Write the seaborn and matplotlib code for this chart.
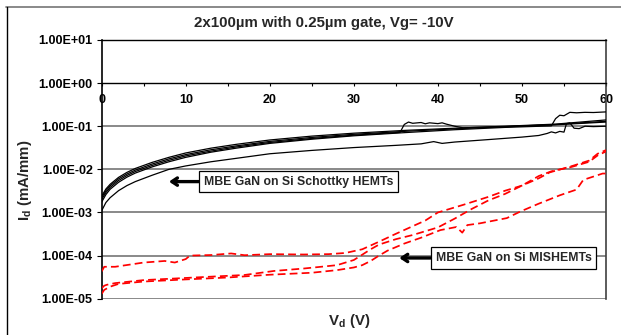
import numpy as np
import pandas as pd
import matplotlib
matplotlib.use("Agg")
import matplotlib.pyplot as plt
import matplotlib.ticker as mticker
from matplotlib.lines import Line2D
import seaborn as sns


TITLE   = "2x100µm with 0.25µm gate, Vg= -10V"
XLABEL  = r"V$_\mathbf{d}$ (V)"
YLABEL  = r"I$_\mathbf{d}$ (mA/mm)"
XTICKS  = [0, 10, 20, 30, 40, 50, 60]
YTICKS  = [1e-5, 1e-4, 1e-3, 1e-2, 1e-1, 1e0, 1e1]
YTICK_LABELS = ["1.00E-05", "1.00E-04", "1.00E-03", "1.00E-02", "1.00E-01", "1.00E+00", "1.00E+01"]
LABEL_SCHOTTKY = "MBE GaN on Si Schottky HEMTs"
LABEL_MIS      = "MBE GaN on Si MISHEMTs"

# Schottky HEMTs (black solid)
V_S = [0, 0.5, 1, 2, 3, 4, 6, 8, 10, 13, 16, 20, 25, 30, 36, 42, 48, 54, 60]
S1  = [2.4e-3, 3.5e-3, 4.5e-3, 6.5e-3, 8.5e-3, 1.05e-2, 1.45e-2, 1.9e-2, 2.4e-2, 3.1e-2, 3.8e-2,
       4.8e-2, 5.9e-2, 6.9e-2, 8.0e-2, 9.0e-2, 1.0e-1, 1.12e-1, 1.4e-1]
S2  = [2.2e-3, 3.2e-3, 4.15e-3, 6.0e-3, 7.8e-3, 9.6e-3, 1.33e-2, 1.75e-2, 2.2e-2, 2.85e-2, 3.5e-2,
       4.45e-2, 5.5e-2, 6.5e-2, 7.6e-2, 8.7e-2, 9.8e-2, 1.1e-1, 1.3e-1]

V_S3 = [0, 0.5, 1, 2, 3, 4, 6, 8, 10, 13, 16, 20, 25, 30, 35.5, 36, 36.5, 37, 38, 38.5, 39, 40,
        40.5, 41, 42, 43, 48, 54, 60]
S3   = [2.0e-3, 2.9e-3, 3.8e-3, 5.5e-3, 7.2e-3, 8.9e-3, 1.23e-2, 1.62e-2, 2.05e-2, 2.65e-2, 3.3e-2,
        4.2e-2, 5.2e-2, 6.2e-2, 7.2e-2, 1.1e-1, 1.25e-1, 1.17e-1, 1.22e-1, 1.14e-1, 1.2e-1, 1.15e-1,
        1.2e-1, 1.12e-1, 1.0e-1, 9.2e-2, 9.7e-2, 1.08e-1, 1.25e-1]

V_S4 = [0, 0.5, 1, 2, 3, 4, 6, 8, 10, 13, 16, 20, 25, 30, 36, 42, 48, 53.5, 54, 54.5, 55, 55.7,
        56.5, 57.5, 58.5, 60]
S4   = [1.75e-3, 2.6e-3, 3.45e-3, 5.0e-3, 6.6e-3, 8.2e-3, 1.14e-2, 1.5e-2, 1.9e-2, 2.5e-2, 3.1e-2,
        4.0e-2, 5.0e-2, 6.0e-2, 7.1e-2, 8.3e-2, 9.4e-2, 1.02e-1, 1.5e-1, 1.8e-1, 1.75e-1, 2.1e-1,
        2.05e-1, 2.1e-1, 2.08e-1, 2.15e-1]

V_S5 = [0, 0.5, 1, 2, 3, 4, 6, 8, 10, 13, 16, 20, 25, 30, 35, 38, 39.5, 40.5, 42, 46, 50, 52, 53,
        53.5, 54, 54.5, 55, 55.3, 55.7, 56.2, 56.8, 57.5, 58.5, 60]
S5   = [1.1e-3, 1.7e-3, 2.2e-3, 3.2e-3, 4.2e-3, 5.2e-3, 7.3e-3, 1.0e-2, 1.2e-2, 1.5e-2, 1.8e-2,
        2.3e-2, 2.75e-2, 3.2e-2, 3.6e-2, 3.9e-2, 4.4e-2, 4.0e-2, 4.3e-2, 4.9e-2, 5.6e-2, 6.1e-2,
        6.8e-2, 7.4e-2, 7.0e-2, 7.6e-2, 7.3e-2, 1.15e-1, 1.2e-1, 9.0e-2, 8.8e-2, 1.0e-1, 9.8e-2, 1.0e-1]

# MISHEMTs (red dashed)
V_R1 = [0, 0.3, 1.6, 5, 6.3, 7.5, 8.7, 10, 10.5, 13, 15.4, 17, 20, 24, 27, 29, 31, 33, 35, 37,
        38.5, 40, 43, 46, 48, 50, 52, 53.3, 56, 58, 59, 60]
R1   = [4.3e-5, 5.5e-5, 5.5e-5, 6.9e-5, 7.2e-5, 7.5e-5, 6.9e-5, 8.3e-5, 1.0e-4, 1.03e-4, 1.12e-4,
        1.02e-4, 1.08e-4, 1.06e-4, 1.08e-4, 1.15e-4, 1.4e-4, 2.1e-4, 3.2e-4, 4.8e-4, 6.5e-4, 1.0e-3,
        1.5e-3, 2.3e-3, 3.2e-3, 4.2e-3, 6.2e-3, 8.5e-3, 1.2e-2, 1.6e-2, 2.3e-2, 2.8e-2]

V_R2 = [0, 0.3, 0.6, 1.6, 5, 11, 17, 20.5, 24, 28, 30, 31, 32, 33, 35, 37, 40, 42, 44, 46, 48, 50,
        52, 53.5, 56, 58, 59, 60]
R2   = [1.75e-5, 2.0e-5, 2.1e-5, 2.3e-5, 2.7e-5, 3.1e-5, 3.55e-5, 4.4e-5, 5.0e-5, 6.0e-5, 7.9e-5,
        1.05e-4, 1.4e-4, 1.8e-4, 2.4e-4, 3.0e-4, 4.5e-4, 7.2e-4, 1.2e-3, 1.9e-3, 2.7e-3, 4.2e-3,
        7.0e-3, 9.0e-3, 1.15e-2, 1.5e-2, 2.1e-2, 2.6e-2]

V_R3 = [0, 0.3, 1, 2, 5, 10, 15, 20, 25, 28, 30, 31, 32, 33, 34, 36, 38, 40.3, 42.2, 42.9, 43.5,
        45, 48.2, 49.8, 52, 54.5, 56.5, 57.3, 58.5, 59.6, 60]
R3   = [1.3e-5, 1.6e-5, 1.9e-5, 2.2e-5, 2.5e-5, 2.8e-5, 3.1e-5, 3.6e-5, 4.0e-5, 4.6e-5, 5.3e-5,
        6.0e-5, 7.5e-5, 1.0e-4, 1.3e-4, 1.9e-4, 2.6e-4, 3.9e-4, 4.6e-4, 3.4e-4, 5.1e-4, 5.6e-4,
        7.4e-4, 1.05e-3, 1.6e-3, 2.5e-3, 3.4e-3, 5.7e-3, 6.8e-3, 8.0e-3, 8.0e-3]


def make_frame():
    rows = []
    black = [("S1", V_S, S1), ("S2", V_S, S2), ("S3", V_S3, S3), ("S4", V_S4, S4), ("S5", V_S5, S5)]
    red   = [("R1", V_R1, R1), ("R2", V_R2, R2), ("R3", V_R3, R3)]
    for name, vs, ids in black:
        rows += [(name, "schottky", v, i) for v, i in zip(vs, ids)]
    for name, vs, ids in red:
        rows += [(name, "mis", v, i) for v, i in zip(vs, ids)]
    return pd.DataFrame(rows, columns=["curve", "device", "Vd", "Id"])


def main():
    sns.set_style("white")
    plt.rcParams["font.family"] = ["Liberation Sans", "DejaVu Sans"]
    plt.rcParams["font.weight"] = "bold"
    plt.rcParams["mathtext.fontset"] = "custom"
    plt.rcParams["mathtext.rm"] = "Liberation Sans:bold"
    plt.rcParams["mathtext.bf"] = "Liberation Sans:bold"
    plt.rcParams["mathtext.it"] = "Liberation Sans:bold"

    df = make_frame()

    fig = plt.figure(figsize=(6.21, 3.35), dpi=100)
    ax  = fig.add_axes([101.7 / 621, 1 - 298.7 / 335, (606 - 101.7) / 621, (298.7 - 40) / 335])

    for name, sub in df.groupby("curve", sort=False):
        if sub["device"].iloc[0] == "schottky":
            sns.lineplot(data=sub, x="Vd", y="Id", ax=ax, color="black", lw=0.9,
                         estimator=None, sort=False, zorder=3)
        else:
            sns.lineplot(data=sub, x="Vd", y="Id", ax=ax, color="#ff0000", lw=1.25,
                         linestyle=(0, (4.5, 2.4)), estimator=None, sort=False, zorder=3)

    ax.set_yscale("log")
    ax.set_xlim(0, 60)
    ax.set_ylim(1e-5, 1e1)

    # gridlines
    for yv in [1e-5, 1e-4, 1e-3, 1e-2, 1e-1]:
        ax.axhline(yv, color="#808080", lw=1.3, zorder=1)

    ax.spines["bottom"].set_position(("data", 1.0))
    ax.spines["bottom"].set_color("black")
    ax.spines["bottom"].set_linewidth(1.0)
    ax.spines["top"].set_color("black")
    ax.spines["top"].set_linewidth(1.0)
    ax.spines["left"].set_color("black")
    ax.spines["left"].set_linewidth(1.2)
    ax.spines["right"].set_color("#404040")
    ax.spines["right"].set_linewidth(1.2)

    ax.set_xticks(XTICKS)
    ax.set_xticklabels([str(t) for t in XTICKS], fontsize=9, fontweight="bold")
    ax.xaxis.set_minor_locator(mticker.MultipleLocator(5))
    ax.tick_params(axis="x", which="both", direction="out", length=2.5, width=0.8,
                   pad=5, bottom=True, colors="black")

    ax.set_yticks(YTICKS)
    ax.set_yticklabels(YTICK_LABELS, fontsize=9, fontweight="bold")
    ax.yaxis.set_minor_locator(mticker.NullLocator())
    ax.tick_params(axis="y", which="major", direction="out", length=3.5, width=0.8, pad=3,
                   left=True, colors="black")

    ax.set_xlabel("")
    ax.set_ylabel("")

    box = dict(boxstyle="square,pad=0.38", fc="white", ec="black", lw=0.9)
    arrow = dict(arrowstyle="->,head_length=0.45,head_width=0.3", lw=2.4, color="black",
                 shrinkA=0, shrinkB=0)
    ax.annotate(LABEL_SCHOTTKY, xy=(8.0, 5.2e-3), xytext=(23.4, 5.2e-3),
                ha="center", va="center", fontsize=8.8, fontweight="bold",
                bbox=box, arrowprops=arrow, zorder=5)
    ax.annotate(LABEL_MIS, xy=(35.4, 8.8e-5), xytext=(49.0, 8.8e-5),
                ha="center", va="center", fontsize=8.8, fontweight="bold",
                bbox=box, arrowprops=arrow, zorder=5)

    fig.text(324 / 621, 1 - 23 / 335, TITLE, ha="center", va="center",
             fontsize=10.8, fontweight="bold")
    fig.text(25 / 621, 1 - 180 / 335, YLABEL, ha="center", va="center",
             rotation=90, fontsize=10.8, fontweight="bold")
    fig.text(349 / 621, 1 - 321 / 335, XLABEL, ha="center", va="center",
             fontsize=10.8, fontweight="bold")

    # chart area border (top and left edges visible)
    fig.add_artist(Line2D([6 / 621, 1], [1 - 7 / 335, 1 - 7 / 335], transform=fig.transFigure,
                          color="#808080", lw=1.3))
    fig.add_artist(Line2D([7 / 621, 7 / 621], [0, 1 - 7 / 335], transform=fig.transFigure,
                          color="black", lw=1.0))

    fig.savefig("out.png", dpi=100)
    plt.close(fig)


if __name__ == "__main__":
    main()
